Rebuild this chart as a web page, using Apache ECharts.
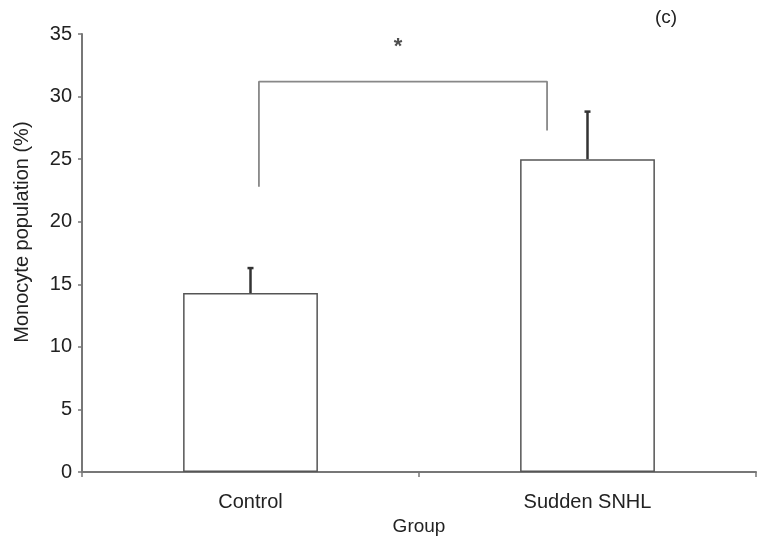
<!DOCTYPE html>
<html>
<head>
<meta charset="utf-8">
<script src="https://cdn.jsdelivr.net/npm/echarts@6/dist/echarts.min.js"></script>
<style>html,body{margin:0;padding:0;background:#fff;}#c{width:758px;height:541px;}</style>
</head>
<body>
<div id="c"></div>
<script>
const categories = ['Control', 'Sudden SNHL'];
const means = [14.3, 25.0];
const errors = [2.0, 3.8];
const yTicks = [0, 5, 10, 15, 20, 25, 30, 35];
// significance bracket (x in group units 0..2, y in %)
const bracketX = [0.525, 0.525, 1.38, 1.38];
const bracketY = [22.8, 31.2, 31.2, 27.3];
const starPoint = [0.938, 34.0];

const font = 'Liberation Sans, Arial, Helvetica, sans-serif';
const chart = echarts.init(document.getElementById('c'));
chart.setOption({
  animation: false,
  backgroundColor: '#fff',
  grid: { left: 82, right: 2, top: 34, bottom: 53, containLabel: false },
  title: {
    text: '(c)', left: 650, top: 3,
    textStyle: { fontFamily: font, fontSize: 19, fontWeight: 'normal', color: '#222' }
  },
  xAxis: [{
    type: 'category',
    data: categories,
    name: 'Group',
    nameLocation: 'middle',
    nameGap: 42,
    nameTextStyle: { fontFamily: font, fontSize: 19, color: '#222' },
    axisLine: { lineStyle: { color: '#777', width: 2 } },
    axisTick: { show: true, length: 5, lineStyle: { color: '#777', width: 1.5 } },
    axisLabel: { fontFamily: font, fontSize: 20, color: '#222', margin: 20 },
    splitLine: { show: false }
  }, {
    type: 'value', min: 0, max: 2, show: false
  }],
  yAxis: {
    type: 'value',
    min: 0, max: 35, interval: 5,
    name: 'Monocyte population (%)',
    nameLocation: 'middle',
    nameGap: 50,
    nameRotate: 90,
    nameTextStyle: { fontFamily: font, fontSize: 20, color: '#222', padding: [0, 0, 0, 42] },
    axisLine: { show: true, lineStyle: { color: '#777', width: 2 } },
    axisTick: { show: true, length: 4, lineStyle: { color: '#777', width: 1.5 } },
    axisLabel: {
      fontFamily: font, fontSize: 20, color: '#222', margin: 10,
      formatter: v => yTicks.includes(v) ? String(v) : ''
    },
    splitLine: { show: false }
  },
  series: [{
    type: 'bar',
    data: means,
    barWidth: '40%',
    itemStyle: { color: '#fff', borderColor: '#555', borderWidth: 1.5 },
    z: 2
  }, {
    type: 'custom',
    data: means.map((m, i) => [i, m, m + errors[i]]),
    renderItem: function (params, api) {
      const top = api.coord([api.value(0), api.value(2)]);
      const bot = api.coord([api.value(0), api.value(1)]);
      return {
        type: 'group',
        children: [
          { type: 'line', shape: { x1: bot[0], y1: bot[1], x2: top[0], y2: top[1] },
            style: { stroke: '#333', lineWidth: 2.5 } },
          { type: 'line', shape: { x1: top[0] - 3, y1: top[1], x2: top[0] + 3, y2: top[1] },
            style: { stroke: '#333', lineWidth: 2.5 } }
        ]
      };
    },
    z: 3
  }, {
    type: 'line',
    xAxisIndex: 1,
    data: bracketX.map((x, i) => [x, bracketY[i]]),
    symbol: 'none',
    lineStyle: { color: '#888', width: 1.8 },
    z: 4
  }, {
    type: 'scatter',
    xAxisIndex: 1,
    data: [starPoint],
    symbolSize: 0,
    label: {
      show: true, position: 'inside', formatter: '*',
      fontFamily: font, fontSize: 22, fontWeight: 'bold', color: '#222'
    }
  }]
});
</script>
</body>
</html>
